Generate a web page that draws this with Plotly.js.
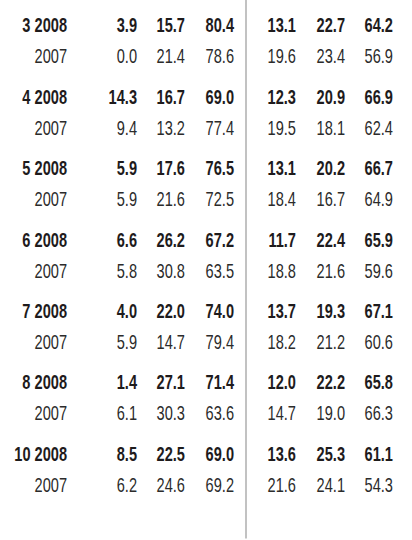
<!DOCTYPE html>
<html>
<head>
<meta charset="utf-8">
<script src="https://cdn.plot.ly/plotly-3.0.1.min.js"></script>
<style>html,body{margin:0;padding:0;background:#fff;}#chart{width:412px;height:540px;}</style>
</head>
<body>
<div id="chart"></div>
<script>
// ---- data ----
var months = ['3', '4', '5', '6', '7', '8', '10'];
var yearNow = '2008';
var yearPrev = '2007';

var colA2008 = [3.9, 14.3, 5.9, 6.6, 4.0, 1.4, 8.5];
var colB2008 = [15.7, 16.7, 17.6, 26.2, 22.0, 27.1, 22.5];
var colC2008 = [80.4, 69.0, 76.5, 67.2, 74.0, 71.4, 69.0];
var colD2008 = [13.1, 12.3, 13.1, 11.7, 13.7, 12.0, 13.6];
var colE2008 = [22.7, 20.9, 20.2, 22.4, 19.3, 22.2, 25.3];
var colF2008 = [64.2, 66.9, 66.7, 65.9, 67.1, 65.8, 61.1];

var colA2007 = [0.0, 9.4, 5.9, 5.8, 5.9, 6.1, 6.2];
var colB2007 = [21.4, 13.2, 21.6, 30.8, 14.7, 30.3, 24.6];
var colC2007 = [78.6, 77.4, 72.5, 63.5, 79.4, 63.6, 69.2];
var colD2007 = [19.6, 19.5, 18.4, 18.8, 18.2, 14.7, 21.6];
var colE2007 = [23.4, 18.1, 16.7, 21.6, 21.2, 19.0, 24.1];
var colF2007 = [56.9, 62.4, 64.9, 59.6, 60.6, 66.3, 54.3];

// ---- layout helpers (positions, not data) ----
var colRight = [67, 137, 185, 234, 296, 345, 393];
var groupStep = 71.4, firstRow = 27.5, subOffset = 31;
var fontFam = '"Liberation Sans", Arial, sans-serif';
var squeeze = 0.73; // horizontal condensing to mimic a condensed face

function rowY(g, sub) { return firstRow + g * groupStep + (sub ? subOffset : 0); }

var traces = [];
function addCol(colIdx, texts, sub) {
  var xs = [], ys = [];
  for (var g = 0; g < texts.length; g++) { xs.push(colRight[colIdx]); ys.push(rowY(g, sub)); }
  traces.push({
    type: 'scatter', mode: 'text', x: xs, y: ys, text: texts,
    textposition: 'middle left', hoverinfo: 'skip', showlegend: false,
    textfont: { family: fontFam, size: 20, color: sub ? '#2b2b2b' : '#1e1b1c', weight: sub ? 'normal' : 'bold' }
  });
}
function fmt(a) { return a.map(function (v) { return v.toFixed(1); }); }

addCol(0, months.map(function (m) { return m + ' ' + yearNow; }), false);
addCol(0, months.map(function () { return yearPrev; }), true);
[colA2008, colB2008, colC2008, colD2008, colE2008, colF2008].forEach(function (c, i) { addCol(i + 1, fmt(c), false); });
[colA2007, colB2007, colC2007, colD2007, colE2007, colF2007].forEach(function (c, i) { addCol(i + 1, fmt(c), true); });

var layout = {
  width: 412, height: 540,
  margin: { l: 0, r: 0, t: 0, b: 0 },
  paper_bgcolor: '#fff', plot_bgcolor: '#fff',
  xaxis: { range: [0, 412], visible: false, fixedrange: true },
  yaxis: { range: [540, 0], visible: false, fixedrange: true },
  shapes: [{ type: 'line', xref: 'x', yref: 'paper', x0: 246, x1: 246, y0: 0.003, y1: 1, line: { color: '#999', width: 1.2 } }]
};

Plotly.newPlot('chart', traces, layout, { staticPlot: true, displayModeBar: false }).then(function (gd) {
  gd.querySelectorAll('.textpoint text').forEach(function (t) {
    var x = parseFloat(t.getAttribute('x')) || 0;
    t.setAttribute('transform', 'translate(' + x + ',0) scale(' + squeeze + ',1) translate(' + (-x) + ',0)');
  });
});
</script>
</body>
</html>
